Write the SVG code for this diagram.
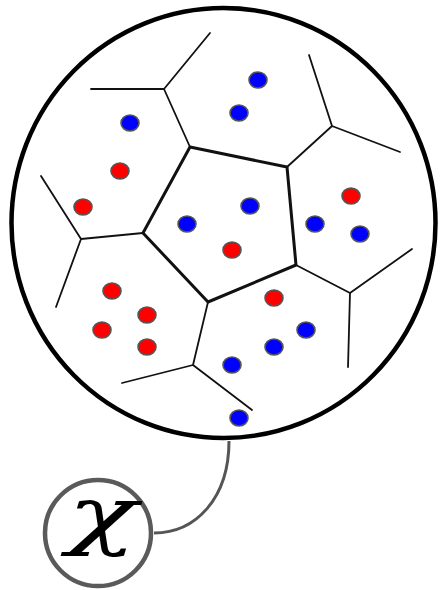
<svg xmlns="http://www.w3.org/2000/svg" width="443" height="590" viewBox="0 0 443 590">
<style>
.thin{stroke:#111;stroke-width:1.8;fill:none;stroke-linecap:round}
.thick{stroke:#111;stroke-width:3;fill:none;stroke-linejoin:round}
.r{fill:#ff0000;stroke:#555;stroke-width:1.6}
.b{fill:#0000ff;stroke:#555;stroke-width:1.6}
</style>
<rect width="443" height="590" fill="#fff"/>
<g id="space">
<ellipse cx="223.5" cy="223" rx="212" ry="215" fill="#fff" stroke="#000" stroke-width="4.5"/>
</g>
<g id="voronoi">
<polygon class="thick" points="190,147 287,167 296,265 208,302 143,233"/>
<path class="thin" d="M190,147 L164,89 M164,89 L210,33 M164,89 L91,89"/>
<path class="thin" d="M287,167 L332,126 M332,126 L309,55 M332,126 L400,152"/>
<path class="thin" d="M143,233 L81,239 M81,239 L41,176 M81,239 L56,307"/>
<path class="thin" d="M296,265 L350,293 M350,293 L412,249 M350,293 L348,367"/>
<path class="thin" d="M208,302 L193,365 M193,365 L122,383 M193,365 L252,410"/>
</g>
<g id="points">
<ellipse class="b" cx="258" cy="80" rx="9" ry="8"/>
<ellipse class="b" cx="239" cy="113" rx="9" ry="8"/>
<ellipse class="b" cx="130" cy="123" rx="9" ry="8"/>
<ellipse class="r" cx="120" cy="171" rx="9" ry="8"/>
<ellipse class="r" cx="83" cy="207" rx="9" ry="8"/>
<ellipse class="b" cx="250" cy="206" rx="9" ry="8"/>
<ellipse class="b" cx="187" cy="224" rx="9" ry="8"/>
<ellipse class="r" cx="232" cy="250" rx="9" ry="8"/>
<ellipse class="r" cx="351" cy="196" rx="9" ry="8"/>
<ellipse class="b" cx="315" cy="224" rx="9" ry="8"/>
<ellipse class="b" cx="360" cy="234" rx="9" ry="8"/>
<ellipse class="r" cx="112" cy="291" rx="9" ry="8"/>
<ellipse class="r" cx="147" cy="315" rx="9" ry="8"/>
<ellipse class="r" cx="102" cy="330" rx="9" ry="8"/>
<ellipse class="r" cx="147" cy="347" rx="9" ry="8"/>
<ellipse class="r" cx="274" cy="298" rx="9" ry="8"/>
<ellipse class="b" cx="306" cy="330" rx="9" ry="8"/>
<ellipse class="b" cx="274" cy="347" rx="9" ry="8"/>
<ellipse class="b" cx="232" cy="365" rx="9" ry="8"/>
<ellipse class="b" cx="239" cy="418" rx="9" ry="8"/>
</g>
<g id="connectors">
<path d="M229,441 C229,498 196,533 154,533" fill="none" stroke="#555" stroke-width="3"/>
</g>
<g id="x-node">
<circle cx="98" cy="533" r="53" fill="#fff" stroke="#5a5a5a" stroke-width="4.5"/>
<text transform="translate(102,540) scale(1.55,1)" text-anchor="middle" font-family="DejaVu Serif, serif" font-style="italic" font-size="74" fill="#000">χ</text>
</g>
</svg>
